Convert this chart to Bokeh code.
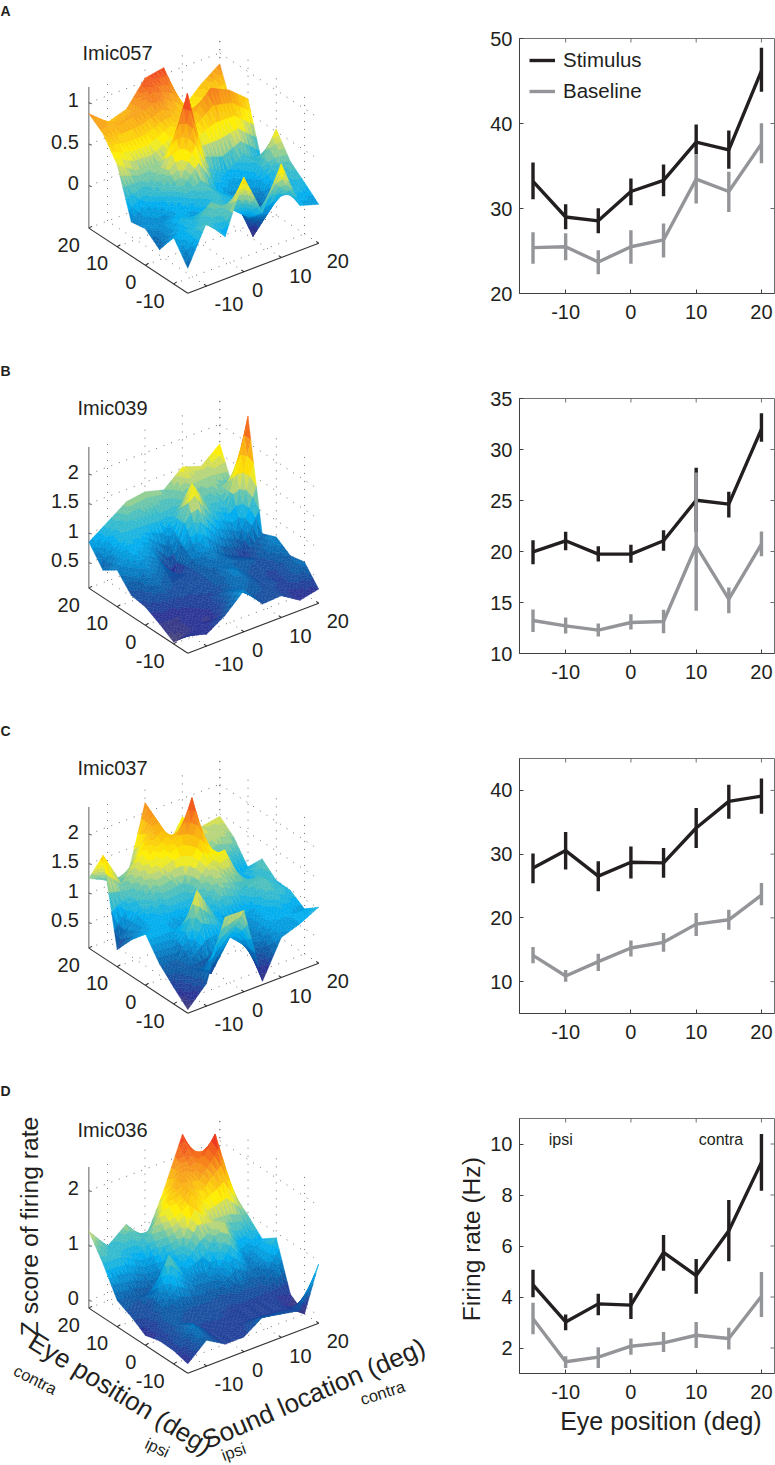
from bokeh.plotting import figure
from bokeh.layouts import column, row
from bokeh.models import (Range1d, ColumnDataSource, FixedTicker, Legend, LegendItem)
from bokeh.core.properties import value
from bokeh.embed import file_html
from bokeh.resources import INLINE
import math

FONT = "Liberation Sans"
INK = "#231f20"
GREY = "#939598"

eye_pos = [-15, -10, -5, 0, 5, 10, 15, 20]
sound_pos = [-15, -10, -5, 0, 5, 10, 15, 20]

# ---- line panels -------------------------------------------------------
A_stim = [33.2, 29.0, 28.55, 32.0, 33.3, 37.8, 36.9, 46.2]
A_stim_hi = [35.41, 30.51, 30.04, 33.53, 35.18, 39.88, 39.18, 48.9]
A_stim_lo = [31.1, 27.57, 27.1, 30.39, 31.45, 36.39, 34.67, 43.73]
A_base = [25.4, 25.5, 23.7, 25.5, 26.3, 33.45, 32.0, 37.6]
A_base_hi = [27.22, 27.1, 25.1, 27.45, 28.24, 36.39, 34.31, 40.04]
A_base_lo = [23.49, 23.92, 22.27, 23.49, 24.24, 30.59, 29.6, 35.33]

B_stim = [19.97, 21.05, 19.74, 19.74, 21.05, 25.03, 24.64, 32.0]
B_stim_hi = [21.1, 21.93, 20.52, 20.65, 22.09, 28.2, 25.85, 33.56]
B_stim_lo = [18.76, 20.13, 19.02, 18.89, 20.07, 21.9, 23.33, 30.75]
B_base = [13.24, 12.71, 12.29, 13.04, 13.14, 20.56, 15.33, 20.72]
B_base_hi = [14.31, 13.53, 12.94, 13.86, 14.28, 27.75, 16.47, 21.96]
B_base_lo = [12.12, 11.96, 11.67, 12.35, 11.99, 14.18, 13.95, 19.54]

C_stim = [27.84, 30.55, 26.54, 28.73, 28.62, 34.1, 38.27, 39.1]
C_stim_hi = [30.08, 33.47, 28.88, 31.18, 30.97, 37.23, 40.88, 41.87]
C_stim_lo = [25.44, 27.58, 24.19, 26.17, 26.28, 30.97, 35.56, 36.34]
C_base = [14.12, 10.89, 13.13, 15.27, 16.16, 19.02, 19.7, 23.56]
C_base_hi = [15.43, 11.83, 14.38, 16.47, 17.62, 20.75, 21.27, 25.49]
C_base_lo = [12.87, 10.0, 11.67, 13.96, 14.69, 17.15, 18.14, 22.0]

D_stim = [4.48, 3.02, 3.73, 3.68, 5.75, 4.84, 6.6, 9.28]
D_stim_hi = [5.07, 3.31, 4.13, 4.16, 6.43, 5.49, 7.8, 10.39]
D_stim_lo = [3.99, 2.70, 3.28, 3.14, 5.03, 4.13, 5.4, 8.17]
D_base = [3.15, 1.46, 1.64, 2.07, 2.2, 2.5, 2.37, 4.03]
D_base_hi = [3.77, 1.68, 2.03, 2.37, 2.63, 3.02, 2.79, 4.98]
D_base_lo = [2.54, 1.22, 1.22, 1.74, 1.84, 2.0, 1.94, 3.22]

x_ticks = [-10, 0, 10, 20]

# ---- surfaces: rows are eye position -15..20, columns sound location -15..20
Z_A = [
    [-0.21, 0.25, 0.00, 0.63, 0.12, 0.62, 0.03, -0.04],
    [0.05, 0.10, 0.30, 0.14, -0.05, -0.10, 0.15, 0.11],
    [-0.21, 0.10, -0.03, 0.16, 0.08, -0.48, -0.01, 0.25],
    [-0.07, -0.06, 0.14, 0.25, 0.02, -0.04, 0.04, 0.53],
    [-0.10, 0.12, 0.35, 1.19, 0.22, 0.05, 0.20, 0.00],
    [0.48, 0.32, 0.29, 0.43, 0.71, 0.97, 0.86, 0.67],
    [0.74, 0.78, 0.81, 0.88, 0.68, 0.55, 0.51, 0.38],
    [0.87, 0.68, 0.75, 1.04, 1.08, 0.50, 0.71, 0.87],
]
Z_B = [
    [0.37, 0.27, 0.47, 0.77, 0.42, 0.44, 0.24, 0.31],
    [0.10, 0.29, 0.22, 0.61, 0.55, 0.43, 0.39, 0.61],
    [0.25, 0.25, 0.38, 0.40, 0.70, 0.44, 0.38, 0.56],
    [0.38, 0.48, 0.42, 0.47, 0.57, 0.56, 0.47, 0.72],
    [0.42, 0.67, 0.49, 0.43, 0.75, 0.49, 0.34, 0.62],
    [0.69, 0.90, 0.73, 0.12, 1.67, 1.10, 0.92, 2.45],
    [0.53, 1.03, 1.02, 1.00, 1.06, 1.17, 1.28, 1.04],
    [0.85, 1.07, 1.29, 1.34, 1.25, 1.52, 1.41, 1.67],
]
Z_C = [
    [0.13, 0.45, 1.46, 1.45, 0.13, 0.75, 0.86, 1.02],
    [0.35, 0.55, 0.34, 0.84, 0.55, 0.88, 0.87, 0.83],
    [0.59, 0.53, 1.59, 1.02, 0.61, 0.83, 1.11, 0.99],
    [0.94, 0.94, 0.70, 0.86, 1.25, 1.07, 1.18, 1.00],
    [0.68, 0.90, 1.00, 1.00, 1.43, 1.60, 0.82, 1.21],
    [0.36, 1.07, 1.41, 1.51, 2.45, 1.21, 0.86, 0.91],
    [1.80, 1.20, 1.64, 1.98, 1.34, 1.22, 1.39, 1.26],
    [1.25, 1.10, 0.95, 2.17, 1.18, 1.69, 1.40, 1.46],
]
Z_D = [
    [0.03, 0.33, 0.13, 0.13, 0.36, 0.29, 0.22, 0.94],
    [0.10, 0.46, 0.14, 0.14, 0.13, 0.12, 0.11, -0.14],
    [0.11, 0.29, 0.19, 0.21, 0.14, 0.13, 0.13, 0.05],
    [0.04, 0.30, 0.29, 0.28, 0.27, 0.39, 0.32, 0.91],
    [0.21, 0.20, 1.07, 0.55, 0.50, 1.28, 0.51, 0.72],
    [0.34, 0.27, 0.20, 0.86, 1.76, 1.14, 1.13, 0.98],
    [0.84, 0.83, 0.64, 1.30, 1.83, 1.88, 2.42, 1.17],
    [1.26, 0.86, 1.13, 0.71, 1.48, 2.38, 1.59, 1.58],
]

# colormap stops (fraction, colour)
CMAP = [(0.0, "#4d4a78"), (0.07, "#2e3192"), (0.18, "#0b5fa8"), (0.33, "#00aeef"),
        (0.44, "#5cc3b4"), (0.53, "#c8d96f"), (0.60, "#fff200"), (0.80, "#f7941d"), (1.0, "#ed1c24")]

def rgb(h):
    return [int(h[i:i + 2], 16) for i in (1, 3, 5)]

def cmap(t):
    t = max(0.0, min(1.0, t))
    for (a, ca), (b, cb) in zip(CMAP, CMAP[1:]):
        if t <= b:
            f = (t - a) / (b - a)
            ra, rb = rgb(ca), rgb(cb)
            return "#%02x%02x%02x" % tuple(int(round(u + (v - u) * f)) for u, v in zip(ra, rb))
    return CMAP[-1][1]

# ---- oblique projection of the 3-D box -------------------------------
FX, FY = 187.3, 292.7          # screen position of the front floor corner
SX, SY = 3.74, -1.427          # screen step per degree of sound location
EX, EY = -2.827, -1.86         # screen step per degree of eye position
E0, E1, S0, S1 = -15, 20, -15, 20
M = 5                          # facets per grid cell side (shading of the surface)
NLEV = 32                      # colour levels of the surface

def proj(e, s, z, zlo, k):
    return (FX + (s - S0) * SX + (e - E0) * EX,
            FY + (s - S0) * SY + (e - E0) * EY - (z - zlo) * k)

def surface_polys(Z, zlo, k, cmin, cmax):
    n = len(eye_pos)
    de, ds = eye_pos[1] - eye_pos[0], sound_pos[1] - sound_pos[0]
    def bil(i, j, u, v):
        return ((1 - u) * (1 - v) * Z[i][j] + u * (1 - v) * Z[i + 1][j]
                + (1 - u) * v * Z[i][j + 1] + u * v * Z[i + 1][j + 1])
    def node(i, j, a, b):
        u, v = a / M, b / M
        z = bil(i, j, u, v)
        x, y = proj(eye_pos[i] + u * de, sound_pos[j] + v * ds, z, zlo, k)
        return (x, y, z)
    tris = []
    for i in range(n - 1):
        for j in range(n - 1):
            for a in range(M):
                for b in range(M):
                    q00, q10 = node(i, j, a, b), node(i, j, a + 1, b)
                    q01, q11 = node(i, j, a, b + 1), node(i, j, a + 1, b + 1)
                    depth = (i * M + a) + (j * M + b)
                    tris.append((depth + 4 / 3, (q10, q01, q11)))
                    tris.append((depth + 2 / 3, (q00, q10, q01)))
    tris.sort(key=lambda t: -t[0])
    xs, ys, cs = [], [], []
    for _, tri in tris:
        zm = sum(p[2] for p in tri) / 3
        lev = math.floor((zm - cmin) / (cmax - cmin) * NLEV)
        xs.append([p[0] for p in tri])
        ys.append([p[1] for p in tri])
        cs.append(cmap((lev + 0.5) / NLEV))
    return xs, ys, cs

TICKS3D = [-10, 0, 10, 20]

def surface_fig(letter, name, Z, zlo, zhi, ztick, zticklabels, cmin, cmax, name_xy, h):
    k = 141.0 / (zhi - zlo)
    p = figure(frame_width=450, frame_height=h, x_range=Range1d(0, 450), y_range=Range1d(h, 0),
               output_backend="svg", toolbar_location=None, min_border=0,
               x_axis_location=None, y_axis_location=None,
               outline_line_color=None)
    p.grid.visible = False
    p.background_fill_color = None
    p.border_fill_color = None

    P = lambda e, s, z: proj(e, s, z, zlo, k)
    # dotted box grid
    gx, gy = [], []
    def seg(a, b):
        gx.append([a[0], b[0]]); gy.append([a[1], b[1]])
    for t in TICKS3D:
        seg(P(t, S0, zlo), P(t, S1, zlo))
        seg(P(E0, t, zlo), P(E1, t, zlo))
        seg(P(E1, t, zlo), P(E1, t, zhi))
        seg(P(t, S1, zlo), P(t, S1, zhi))
    for t in ztick:
        seg(P(E1, S0, t), P(E1, S1, t))
        seg(P(E1, S1, t), P(E0, S1, t))
    p.multi_line(gx, gy, line_color="#6d6e71", line_width=1, line_dash="1 7")

    # solid axes
    ax, ay = [], []
    for a, b in [(P(E1, S0, zlo), P(E0, S0, zlo)), (P(E0, S0, zlo), P(E0, S1, zlo))]:
        ax.append([a[0], b[0]]); ay.append([a[1], b[1]])
    for t in TICKS3D:
        a = P(t, S0, zlo); ax.append([a[0], a[0] + 3.2]); ay.append([a[1], a[1] - 2.0])
        a = P(E0, t, zlo); ax.append([a[0], a[0] - 2.6]); ay.append([a[1], a[1] - 1.9])
    p.multi_line(ax, ay, line_color="#333333", line_width=1.1)
    a, b = P(E1, S0, zlo), P(E1, S0, zhi)
    zx = [[a[0], b[0]]]; zy = [[a[1], b[1]]]
    for t in ztick:
        q = P(E1, S0, t); zx.append([q[0], q[0] + 3]); zy.append([q[1], q[1] + 0.8])
    p.multi_line(zx, zy, line_color="#6d6e71", line_width=1.1)

    # surface
    xs, ys, cs = surface_polys(Z, zlo, k, cmin, cmax)
    p.patches(xs="x", ys="y", fill_color="c", line_color="c", line_width=0.4,
              source=ColumnDataSource(dict(x=xs, y=ys, c=cs)))

    # tick labels
    tkw = dict(text_font=value(FONT), text_font_size="20px", text_color=INK, text_baseline="middle")
    ex = [P(t, S0, zlo) for t in TICKS3D]
    p.text([q[0] - 9 for q in ex], [q[1] + 16.7 for q in ex], text=[str(t) for t in TICKS3D], text_align="right", **tkw)
    sx = [P(E0, t, zlo) for t in TICKS3D]
    p.text([q[0] + 8 for q in sx], [q[1] + 18 for q in sx], text=[str(t) for t in TICKS3D], text_align="left", **tkw)
    zq = [P(E1, S0, t) for t in ztick]
    p.text([q[0] - 10 for q in zq], [q[1] - 2.5 for q in zq], text=zticklabels, text_align="right", **tkw)

    p.text([name_xy[0]], [name_xy[1]], text=[name], text_font=value(FONT), text_font_size="20px",
           text_color=INK, text_align="left", text_baseline="middle")
    p.text([0], [10], text=[letter], text_font=value(FONT), text_font_size="14px", text_font_style="bold",
           text_color=INK, text_align="left", text_baseline="middle")
    return p

def line_fig(stim, sl, sh, base, bl, bh, ylim, yticks, h, bottom, legend=False):
    p = figure(frame_width=255, frame_height=h - 38 - bottom, x_range=Range1d(-17.07, 22), y_range=Range1d(*ylim),
               output_backend="svg", toolbar_location=None,
               min_border_left=69, min_border_right=1, min_border_top=38, min_border_bottom=bottom,
               outline_line_color="#6d6e71")
    p.grid.visible = False
    p.xaxis.ticker = FixedTicker(ticks=x_ticks)
    p.yaxis.ticker = FixedTicker(ticks=yticks)
    for ax in (p.xaxis[0], p.yaxis[0]):
        ax.major_tick_in = 4
        ax.major_tick_out = 0
        ax.minor_tick_in = 0
        ax.minor_tick_out = 0
        ax.axis_line_color = "#414042"
        ax.major_tick_line_color = "#414042"
        ax.major_label_text_font = FONT
        ax.major_label_text_font_size = "20px"
        ax.major_label_text_color = INK
    p.xaxis[0].major_label_standoff = 11
    p.yaxis[0].major_label_standoff = 7
    p.xaxis[0].major_label_overrides = {t: str(t) for t in x_ticks}
    # tick marks on the top and right of the box
    p.ray(x_ticks, [ylim[1]] * len(x_ticks), length=4, length_units="screen", angle=-math.pi / 2,
          line_color="#6d6e71", line_width=1)
    p.ray([22] * len(yticks), yticks, length=4, length_units="screen", angle=math.pi,
          line_color="#6d6e71", line_width=1)
    p.segment(eye_pos, sl, eye_pos, sh, line_color=INK, line_width=3.4)
    r1 = p.line(eye_pos, stim, line_color=INK, line_width=3.4, line_join="round")
    p.segment(eye_pos, bl, eye_pos, bh, line_color=GREY, line_width=3.4)
    r2 = p.line(eye_pos, base, line_color=GREY, line_width=3.4, line_join="round")
    if legend:
        lg = Legend(items=[LegendItem(label="Stimulus", renderers=[r1]), LegendItem(label="Baseline", renderers=[r2])],
                    location="top_left", background_fill_alpha=0, border_line_color=None,
                    label_text_font=FONT, label_text_font_size="20.5px", label_text_color=INK,
                    glyph_width=26, label_standoff=8, spacing=7, padding=0, margin=10)
        p.add_layout(lg)
    return p

fig_A = surface_fig("A", "Imic057", Z_A, -0.51, 1.19, [0, 0.5, 1], ["0", "0.5", "1"], -0.50, 1.19, (82, 52), 360)
fig_B = surface_fig("B", "Imic039", Z_B, 0.07, 2.46, [0.5, 1, 1.5, 2], ["0.5", "1", "1.5", "2"], 0.10, 2.55, (77, 47), 360)
fig_C = surface_fig("C", "Imic037", Z_C, 0.07, 2.46, [0.5, 1, 1.5, 2], ["0.5", "1", "1.5", "2"], 0.10, 2.55, (77, 47), 360)
fig_D = surface_fig("D", "Imic036", Z_D, -0.14, 2.43, [0, 1, 2], ["0", "1", "2"], -0.14, 2.45, (77, 49), 385)

ltxt = dict(text_font=value(FONT), text_color=INK, text_align="center", text_baseline="middle")
fig_D.text([29], [146], text=["Z score of firing rate"], angle=[math.radians(90)], text_font_size="24.7px", **ltxt)
fig_D.text([120], [313], text=["Eye position (deg)"], angle=[math.radians(-31.5)], text_font_size="26px", **ltxt)
fig_D.text([313], [313], text=["Sound location (deg)"], angle=[math.radians(23.5)], text_font_size="26px", **ltxt)
fig_D.text([35], [299], text=["contra"], angle=[math.radians(-27)], text_font_size="16.5px", **ltxt)
fig_D.text([157], [367], text=["ipsi"], angle=[math.radians(-25)], text_font_size="16.5px", **ltxt)
fig_D.text([233], [371], text=["ipsi"], angle=[math.radians(20)], text_font_size="16.5px", **ltxt)
fig_D.text([382], [312], text=["contra"], angle=[math.radians(18)], text_font_size="16.5px", **ltxt)

line_A = line_fig(A_stim, A_stim_lo, A_stim_hi, A_base, A_base_lo, A_base_hi, (20, 50), [20, 30, 40, 50], 360, 67, legend=True)
line_B = line_fig(B_stim, B_stim_lo, B_stim_hi, B_base, B_base_lo, B_base_hi, (10, 35), [10, 15, 20, 25, 30, 35], 360, 67)
line_C = line_fig(C_stim, C_stim_lo, C_stim_hi, C_base, C_base_lo, C_base_hi, (5, 45), [10, 20, 30, 40], 360, 67)
line_D = line_fig(D_stim, D_stim_lo, D_stim_hi, D_base, D_base_lo, D_base_hi, (1, 11), [2, 4, 6, 8, 10], 385, 92)

note = dict(text_font=value(FONT), text_font_size="16px", text_color=INK, text_align="center", text_baseline="middle")
line_D.text([-10.75, 13.8], [10.18, 10.18], text=["ipsi", "contra"], **note)
NB = "\u00a0"
line_D.xaxis[0].axis_label = NB * 4 + "Eye position (deg)"
line_D.yaxis[0].axis_label = NB * 2 + "Firing rate (Hz)"
for ax, sz, so in ((line_D.xaxis[0], "25px", 5), (line_D.yaxis[0], "24.6px", 2)):
    ax.axis_label_text_font = FONT
    ax.axis_label_text_font_size = sz
    ax.axis_label_text_font_style = "normal"
    ax.axis_label_text_color = INK
    ax.axis_label_standoff = so

page = row(column(fig_A, fig_B, fig_C, fig_D, spacing=0),
           column(line_A, line_B, line_C, line_D, spacing=0), spacing=0)
open("out.html", "w").write(file_html(page, INLINE))
